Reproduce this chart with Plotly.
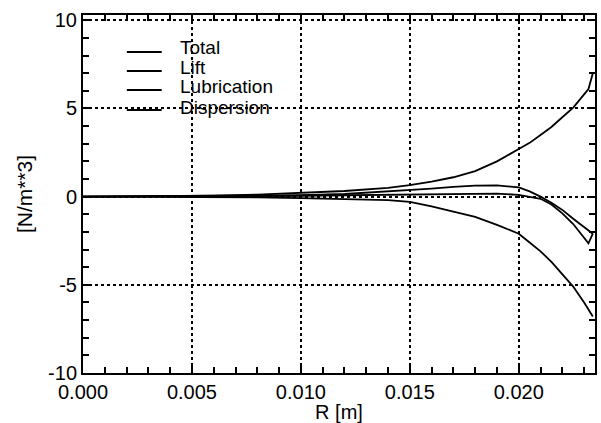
import plotly.graph_objects as go

# ---- data ----
r_m = [0.0, 0.002, 0.004, 0.006, 0.008, 0.010, 0.012, 0.014, 0.015, 0.016, 0.017,
       0.018, 0.019, 0.020, 0.0205, 0.021, 0.0215, 0.022, 0.0225, 0.023, 0.0232, 0.0234]
total = [0.0, 0.01, 0.03, 0.06, 0.12, 0.2, 0.32, 0.5, 0.65, 0.85, 1.1,
         1.45, 2.0, 2.7, 3.05, 3.5, 3.95, 4.5, 5.05, 5.8, 6.1, 7.0]
lift = [0.0, 0.01, 0.02, 0.04, 0.06, 0.08, 0.15, 0.3, 0.35, 0.45, 0.55,
        0.62, 0.64, 0.52, 0.3, 0.0, -0.35, -0.75, -1.25, -1.75, -1.95, -2.1]
lubrication = [0.0, 0.0, 0.01, 0.02, 0.03, 0.05, 0.08, 0.1, 0.12, 0.15, 0.17,
               0.18, 0.17, 0.1, 0.0, -0.12, -0.45, -0.95, -1.55, -2.3, -2.65, -2.1]
dispersion = [0.0, 0.0, -0.01, -0.02, -0.04, -0.08, -0.12, -0.2, -0.3, -0.55, -0.85,
              -1.15, -1.6, -2.1, -2.6, -3.1, -3.7, -4.4, -5.1, -6.0, -6.4, -6.8]

series_names = ["Total", "Lift", "Lubrication", "Dispersion"]
series_values = [total, lift, lubrication, dispersion]

x_tick_vals = [0.000, 0.005, 0.010, 0.015, 0.020]
x_tick_text = ["0.000", "0.005", "0.010", "0.015", "0.020"]
y_tick_vals = [-10, -5, 0, 5, 10]
y_tick_text = ["-10", "-5", "0", "5", "10"]

FONT = "Liberation Sans, Arial, Helvetica, sans-serif"

fig = go.Figure()
for name, vals in zip(series_names, series_values):
    fig.add_trace(go.Scatter(x=r_m, y=vals, mode="lines", name=name,
                             line=dict(color="black", width=1.8), showlegend=False))

axis_common = dict(
    showline=True, linecolor="black", linewidth=2, mirror="allticks",
    ticks="inside", ticklen=8, tickwidth=1.5, tickcolor="black",
    showgrid=True, gridcolor="black", griddash="dot", gridwidth=1.5,
    zeroline=False, tickfont=dict(family=FONT, size=20, color="black"),
)

fig.update_xaxes(
    range=[0, 0.0235], tickvals=x_tick_vals, ticktext=x_tick_text,
    minor=dict(dtick=0.001, tick0=0, ticks="inside", ticklen=6, tickwidth=1.5,
               tickcolor="black", showgrid=False),
    title=dict(text="R [m]", font=dict(family=FONT, size=20, color="black"), standoff=0),
    **axis_common)
fig.update_yaxes(
    range=[-10, 10.3], tickvals=y_tick_vals, ticktext=y_tick_text,
    minor=dict(dtick=1, tick0=0, ticks="inside", ticklen=6, tickwidth=1.5,
               tickcolor="black", showgrid=False),
    title=dict(text="[N/m**3]", font=dict(family=FONT, size=21, color="black"), standoff=10),
    **axis_common)

# manual legend (line samples + labels) in the upper-left corner
leg_line_y = [0.8966, 0.8436, 0.7905, 0.7346]
leg_text_y = [0.9106, 0.8547, 0.7989, 0.7430]
for name, ly, ty in zip(series_names, leg_line_y, leg_text_y):
    fig.add_shape(type="line", xref="paper", yref="paper",
                  x0=0.0856, x1=0.1537, y0=ly, y1=ly,
                  line=dict(color="black", width=1.8))
    fig.add_annotation(xref="paper", yref="paper", x=0.186, y=ty,
                       xanchor="left", yanchor="middle", showarrow=False,
                       text=name, font=dict(family=FONT, size=19, color="black"))

fig.update_layout(
    width=601, height=423,
    margin=dict(l=83, r=4, t=15, b=50),
    paper_bgcolor="white", plot_bgcolor="white",
    font=dict(family=FONT, size=20, color="black"),
    showlegend=False,
)

fig.write_html("out.html")
